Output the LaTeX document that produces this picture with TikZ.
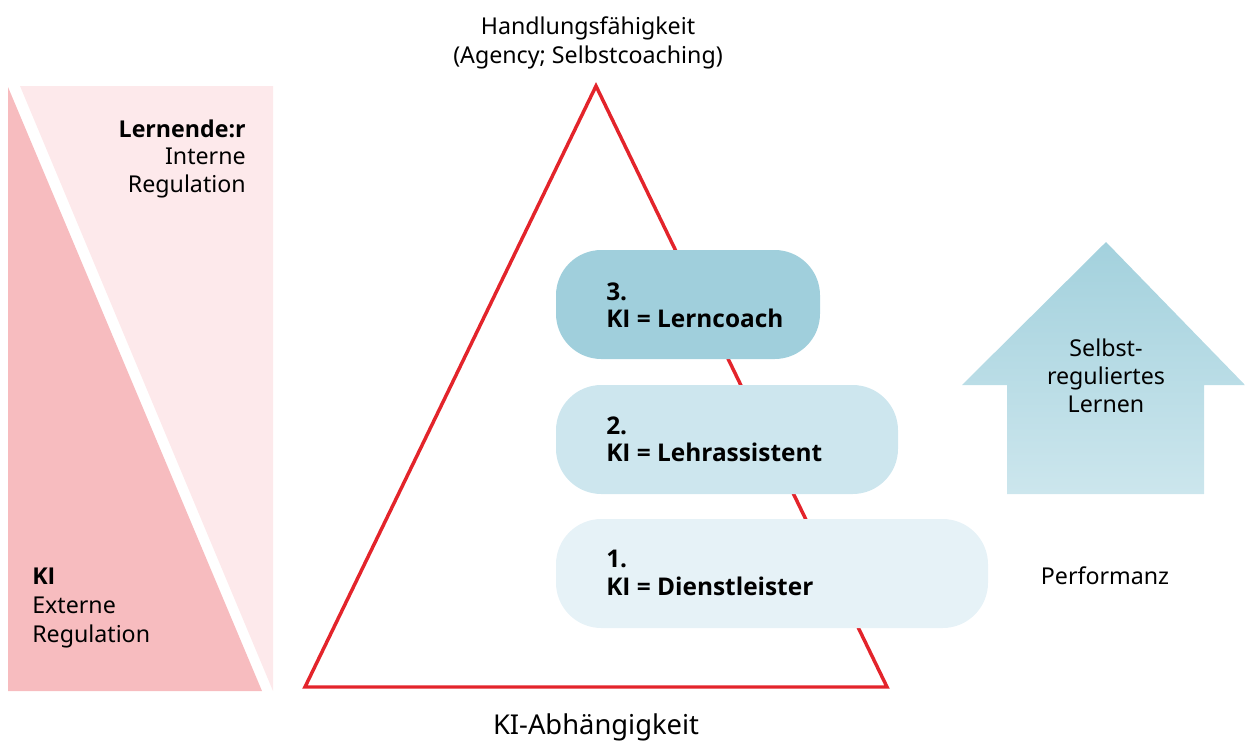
\documentclass[tikz,border=0pt]{standalone}
\usepackage{fontspec}
\setmainfont{Noto Sans}
\newfontfamily\boldf{Open Sans}
\newcommand{\bt}[1]{{\boldf\bfseries #1}}
\definecolor{pinkdark}{HTML}{F7BCBF}
\definecolor{pinklight}{HTML}{FDE9EB}
\definecolor{redline}{HTML}{E3242B}
\definecolor{boxthree}{HTML}{A0CFDC}
\definecolor{boxtwo}{HTML}{CDE6EE}
\definecolor{boxone}{HTML}{E6F2F7}
\definecolor{arrowtop}{HTML}{A3D1DD}
\definecolor{arrowbot}{HTML}{CCE6ED}
\begin{document}
\begin{tikzpicture}[x=0.75pt,y=-0.75pt,
  lbl/.style={inner sep=0pt,font=\fontsize{17.4}{20.6}\selectfont},
  boxlbl/.style={inner sep=0pt,anchor=west,align=left,font=\fontsize{18.3}{20.5}\selectfont\boldf\bfseries},
  stage/.style={rounded corners=34pt}]
\useasboundingbox (0,0) rectangle (1245,740);
% left shapes
\fill[pinklight] (20,86) -- (273,86) -- (273,691) -- cycle;
\fill[pinkdark] (8,87) -- (262,691) -- (8,691) -- cycle;
\node[lbl,anchor=east,align=right] (lern) at (246,158.5) {\bt{Lernende:r}\\Interne\\Regulation};
\node[lbl,anchor=west,align=left,font=\fontsize{17.4}{21.75}\selectfont] (ki) at (32,608) {\bt{KI}\\Externe\\Regulation};
% triangle
\coordinate (apex) at (596,86);
\coordinate (bl) at (305,687);
\coordinate (br) at (887,687);
\draw[redline,line width=2.6pt,line join=miter] (apex) -- (br) -- (bl) -- cycle;
% top / bottom labels
\node[lbl,align=center,font=\fontsize{17.4}{21.75}\selectfont] (hand) at (588,42.5) {Handlungsfähigkeit\\(Agency; Selbstcoaching)};
\node[lbl,font=\fontsize{20.5}{24}\selectfont] (abh) at (596,727) {KI-Abhängigkeit};
% stage boxes
\fill[boxthree,stage] (556,250) rectangle (820,359);
\fill[boxtwo,stage] (556,385) rectangle (898,494);
\fill[boxone,stage] (556,519) rectangle (988,628);
\node[boxlbl] (s3) at (606,305) {3.\\KI = Lerncoach};
\node[boxlbl] (s2) at (606,439) {2.\\KI = Lehrassistent};
\node[boxlbl] (s1) at (606,573) {1.\\KI = Dienstleister};
% arrow
\path[top color=arrowtop,bottom color=arrowbot] (1106,242) -- (1245,385) -- (1204,385) -- (1204,494) -- (1007,494) -- (1007,385) -- (962,385) -- cycle;
\node[lbl,align=center,font=\fontsize{17.4}{21}\selectfont] (srl) at (1106,376) {Selbst-\\reguliertes\\Lernen};
\node[lbl] (perf) at (1105,576) {Performanz};
\end{tikzpicture}
\end{document}
